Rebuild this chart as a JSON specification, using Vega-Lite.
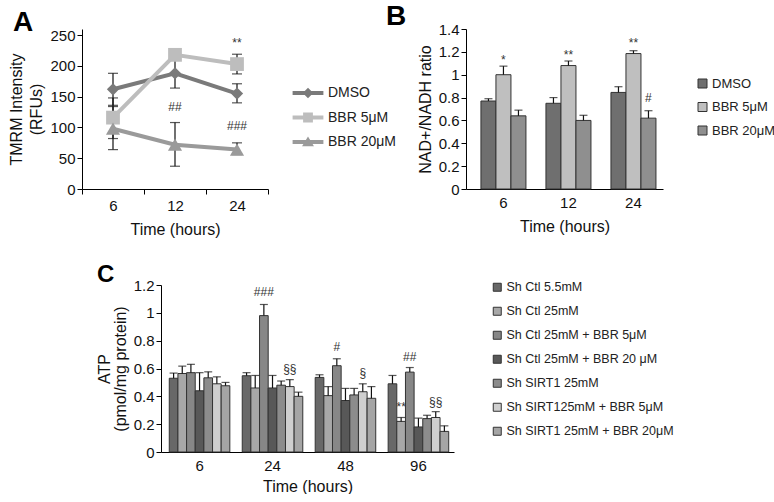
{
  "$schema": "https://vega.github.io/schema/vega-lite/v6.json",
  "padding": {"left": 8, "top": 3, "right": 0, "bottom": 0},
  "config": {
    "view": {"stroke": null},
    "font": "Liberation Sans",
    "axis": {"domainColor": "#000", "tickColor": "#000", "labelColor": "#111", "titleColor": "#111", "labelFont": "Liberation Sans", "titleFont": "Liberation Sans", "labelFontSize": 15, "titleFontSize": 16, "titleFontWeight": "normal", "grid": false, "tickSize": 5, "domainWidth": 1, "tickWidth": 1, "labelOverlap": false},
    "legend": {"labelFont": "Liberation Sans", "labelColor": "#222", "padding": 0},
    "title": {"font": "Liberation Sans", "fontWeight": "bold", "fontSize": 28, "anchor": "start", "color": "#000", "frame": "group"}
  },
  "datasets": {
    "tmrm": [
      {"series": "DMSO", "t": "6", "v": 162, "lo": 136, "hi": 188},
      {"series": "DMSO", "t": "12", "v": 188, "lo": 164, "hi": 211},
      {"series": "DMSO", "t": "24", "v": 155, "lo": 140, "hi": 171},
      {"series": "BBR 5μM", "t": "6", "v": 116, "lo": 82, "hi": 148},
      {"series": "BBR 5μM", "t": "12", "v": 218, "lo": 214, "hi": 222},
      {"series": "BBR 5μM", "t": "24", "v": 203, "lo": 187, "hi": 219},
      {"series": "BBR 20μM", "t": "6", "v": 98, "lo": 64, "hi": 134},
      {"series": "BBR 20μM", "t": "12", "v": 72, "lo": 37, "hi": 108},
      {"series": "BBR 20μM", "t": "24", "v": 64, "lo": 56, "hi": 75}
    ],
    "annA": [
      {"t": "24", "y": 238, "label": "**"},
      {"t": "12", "y": 133, "label": "##"},
      {"t": "24", "y": 103, "label": "###"}
    ],
    "nad": [
      {"series": "DMSO", "t": "6", "v": 0.77, "hi": 0.79},
      {"series": "BBR 5μM", "t": "6", "v": 1.0, "hi": 1.075},
      {"series": "BBR 20μM", "t": "6", "v": 0.64, "hi": 0.69},
      {"series": "DMSO", "t": "12", "v": 0.75, "hi": 0.8},
      {"series": "BBR 5μM", "t": "12", "v": 1.08, "hi": 1.12},
      {"series": "BBR 20μM", "t": "12", "v": 0.6, "hi": 0.645},
      {"series": "DMSO", "t": "24", "v": 0.845, "hi": 0.895},
      {"series": "BBR 5μM", "t": "24", "v": 1.185, "hi": 1.21},
      {"series": "BBR 20μM", "t": "24", "v": 0.62, "hi": 0.685}
    ],
    "annB": [
      {"t": "6", "series": "BBR 5μM", "y": 1.13, "label": "*"},
      {"t": "12", "series": "BBR 5μM", "y": 1.17, "label": "**"},
      {"t": "24", "series": "BBR 5μM", "y": 1.28, "label": "**"},
      {"t": "24", "series": "BBR 20μM", "y": 0.8, "label": "#"}
    ],
    "atp": [
      {"t": "6", "series": "Sh Ctl 5.5mM", "v": 0.53, "hi": 0.567},
      {"t": "6", "series": "Sh Ctl 25mM", "v": 0.564, "hi": 0.617},
      {"t": "6", "series": "Sh Ctl 25mM + BBR 5μM", "v": 0.57, "hi": 0.63},
      {"t": "6", "series": "Sh Ctl 25mM + BBR 20 μM", "v": 0.44, "hi": 0.57},
      {"t": "6", "series": "Sh SIRT1 25mM", "v": 0.533, "hi": 0.576},
      {"t": "6", "series": "Sh SIRT125mM + BBR 5μM", "v": 0.49, "hi": 0.54},
      {"t": "6", "series": "Sh SIRT1 25mM + BBR 20μM", "v": 0.476, "hi": 0.5},
      {"t": "24", "series": "Sh Ctl 5.5mM", "v": 0.548, "hi": 0.57},
      {"t": "24", "series": "Sh Ctl 25mM", "v": 0.46, "hi": 0.55},
      {"t": "24", "series": "Sh Ctl 25mM + BBR 5μM", "v": 0.98, "hi": 1.06},
      {"t": "24", "series": "Sh Ctl 25mM + BBR 20 μM", "v": 0.46, "hi": 0.55},
      {"t": "24", "series": "Sh SIRT1 25mM", "v": 0.48, "hi": 0.51},
      {"t": "24", "series": "Sh SIRT125mM + BBR 5μM", "v": 0.47, "hi": 0.52},
      {"t": "24", "series": "Sh SIRT1 25mM + BBR 20μM", "v": 0.4, "hi": 0.43},
      {"t": "48", "series": "Sh Ctl 5.5mM", "v": 0.536, "hi": 0.555},
      {"t": "48", "series": "Sh Ctl 25mM", "v": 0.405, "hi": 0.47},
      {"t": "48", "series": "Sh Ctl 25mM + BBR 5μM", "v": 0.62, "hi": 0.67},
      {"t": "48", "series": "Sh Ctl 25mM + BBR 20 μM", "v": 0.37, "hi": 0.457},
      {"t": "48", "series": "Sh SIRT1 25mM", "v": 0.41, "hi": 0.457},
      {"t": "48", "series": "Sh SIRT125mM + BBR 5μM", "v": 0.433, "hi": 0.49},
      {"t": "48", "series": "Sh SIRT1 25mM + BBR 20μM", "v": 0.386, "hi": 0.47},
      {"t": "96", "series": "Sh Ctl 5.5mM", "v": 0.49, "hi": 0.55},
      {"t": "96", "series": "Sh Ctl 25mM", "v": 0.22, "hi": 0.248},
      {"t": "96", "series": "Sh Ctl 25mM + BBR 5μM", "v": 0.574, "hi": 0.607},
      {"t": "96", "series": "Sh Ctl 25mM + BBR 20 μM", "v": 0.18, "hi": 0.243},
      {"t": "96", "series": "Sh SIRT1 25mM", "v": 0.24, "hi": 0.264},
      {"t": "96", "series": "Sh SIRT125mM + BBR 5μM", "v": 0.248, "hi": 0.29},
      {"t": "96", "series": "Sh SIRT1 25mM + BBR 20μM", "v": 0.148, "hi": 0.188}
    ],
    "annC": [
      {"t": "24", "series": "Sh Ctl 25mM + BBR 5μM", "y": 1.15, "label": "###"},
      {"t": "24", "series": "Sh SIRT125mM + BBR 5μM", "y": 0.6, "label": "§§"},
      {"t": "48", "series": "Sh Ctl 25mM + BBR 5μM", "y": 0.757, "label": "#"},
      {"t": "48", "series": "Sh SIRT125mM + BBR 5μM", "y": 0.57, "label": "§"},
      {"t": "96", "series": "Sh Ctl 25mM + BBR 5μM", "y": 0.68, "label": "##"},
      {"t": "96", "series": "Sh Ctl 25mM", "y": 0.32, "label": "**"},
      {"t": "96", "series": "Sh SIRT125mM + BBR 5μM", "y": 0.36, "label": "§§"}
    ]
  },
  "spacing": 26,
  "resolve": {"scale": {"color": "independent", "x": "independent", "y": "independent", "xOffset": "independent"}, "legend": {"color": "independent"}},
  "vconcat": [
    {
      "bounds": "flush",
      "spacing": 198,
      "resolve": {"scale": {"color": "independent", "x": "independent", "y": "independent", "xOffset": "independent"}, "legend": {"color": "independent"}},
      "hconcat": [
        {
          "width": 186,
          "height": 160,
          "title": {"text": "A", "dx": -69, "offset": -9},
          "layer": [
            {
              "data": {"name": "tmrm"},
              "mark": {"type": "rule", "color": "#111", "strokeWidth": 1.2},
              "encoding": {
                "x": {"field": "t", "type": "ordinal", "sort": ["6", "12", "24"], "bandPosition": 0.5,
                      "scale": {"type": "band", "paddingInner": 0, "paddingOuter": 0},
                      "axis": {"title": "Time (hours)", "labelAngle": 0, "tickBand": "extent", "labelPadding": 4, "titlePadding": 8}},
                "y": {"field": "lo", "type": "quantitative", "scale": {"domain": [0, 250]},
                      "axis": {"title": ["TMRM Intensity", "(RFUs)"], "values": [0, 50, 100, 150, 200, 250], "tickCount": 20, "labelOverlap": false, "titlePadding": 5, "titleLineHeight": 20}},
                "y2": {"field": "hi"}
              }
            },
            {
              "data": {"name": "tmrm"},
              "mark": {"type": "tick", "orient": "horizontal", "size": 10, "thickness": 1.2, "color": "#111"},
              "encoding": {
                "x": {"field": "t", "type": "ordinal", "sort": ["6", "12", "24"], "bandPosition": 0.5},
                "y": {"field": "hi", "type": "quantitative"}
              }
            },
            {
              "data": {"name": "tmrm"},
              "mark": {"type": "tick", "orient": "horizontal", "size": 10, "thickness": 1.2, "color": "#111"},
              "encoding": {
                "x": {"field": "t", "type": "ordinal", "sort": ["6", "12", "24"], "bandPosition": 0.5},
                "y": {"field": "lo", "type": "quantitative"}
              }
            },
            {
              "data": {"name": "tmrm"},
              "mark": {"type": "line", "strokeWidth": 4},
              "encoding": {
                "x": {"field": "t", "type": "ordinal", "sort": ["6", "12", "24"], "bandPosition": 0.5},
                "y": {"field": "v", "type": "quantitative"},
                "color": {"field": "series", "type": "nominal",
                  "scale": {"domain": ["DMSO", "BBR 5μM", "BBR 20μM"], "range": ["#7a7a7a", "#bdbdbd", "#9a9a9a"]},
                  "legend": {"orient": "none", "legendX": 219, "legendY": 57, "title": null, "labelFontSize": 14, "symbolSize": 196, "labelOffset": 13, "rowPadding": 10.5,
                    "encode": {"symbols": {"update": {
                      "shape": {"signal": "datum.value === 'DMSO' ? 'M-2.2,-0.28H2.2V0.28H-2.2Z M0,-0.75L0.75,0L0,0.75L-0.75,0Z' : datum.value === 'BBR 5μM' ? 'M-2.2,-0.28H2.2V0.28H-2.2Z M-0.7,-0.7H0.7V0.7H-0.7Z' : 'M-2.2,-0.28H2.2V0.28H-2.2Z M0,-0.8L0.85,0.6H-0.85Z'"},
                      "fill": {"signal": "datum.value === 'DMSO' ? '#7a7a7a' : datum.value === 'BBR 5μM' ? '#bdbdbd' : '#9a9a9a'"},
                      "stroke": {"value": "transparent"},
                      "strokeWidth": {"value": 0},
                      "opacity": {"value": 1}
                    }}}}
                }
              }
            },
            {
              "data": {"name": "tmrm"},
              "transform": [{"filter": "datum.series === 'DMSO'"}],
              "mark": {"type": "point", "filled": true, "opacity": 1, "size": 150, "shape": "diamond", "color": "#7a7a7a"},
              "encoding": {
                "x": {"field": "t", "type": "ordinal", "sort": ["6", "12", "24"], "bandPosition": 0.5},
                "y": {"field": "v", "type": "quantitative"}
              }
            },
            {
              "data": {"name": "tmrm"},
              "transform": [{"filter": "datum.series === 'BBR 5μM'"}],
              "mark": {"type": "point", "filled": true, "opacity": 1, "size": 190, "shape": "square", "color": "#bdbdbd"},
              "encoding": {
                "x": {"field": "t", "type": "ordinal", "sort": ["6", "12", "24"], "bandPosition": 0.5},
                "y": {"field": "v", "type": "quantitative"}
              }
            },
            {
              "data": {"name": "tmrm"},
              "transform": [{"filter": "datum.series === 'BBR 20μM'"}],
              "mark": {"type": "point", "filled": true, "opacity": 1, "size": 200, "shape": "triangle-up", "color": "#9a9a9a"},
              "encoding": {
                "x": {"field": "t", "type": "ordinal", "sort": ["6", "12", "24"], "bandPosition": 0.5},
                "y": {"field": "v", "type": "quantitative"}
              }
            },
            {
              "data": {"name": "annA"},
              "mark": {"type": "text", "fontSize": 12, "color": "#333"},
              "encoding": {
                "x": {"field": "t", "type": "ordinal", "sort": ["6", "12", "24"], "bandPosition": 0.5},
                "y": {"field": "y", "type": "quantitative"},
                "text": {"field": "label"}
              }
            }
          ]
        },
        {
          "width": 197,
          "height": 160,
          "title": {"text": "B", "dx": -80, "offset": -9},
          "layer": [
            {
              "data": {"name": "nad"},
              "mark": {"type": "bar", "stroke": "#333", "strokeWidth": 1},
              "encoding": {
                "x": {"field": "t", "type": "ordinal", "sort": ["6", "12", "24"],
                      "scale": {"type": "band", "paddingInner": 0.3077, "paddingOuter": 0.169, "align": 0.68},
                      "axis": {"title": "Time (hours)", "labelAngle": 0, "ticks": false, "labelPadding": 6, "titlePadding": 8}},
                "xOffset": {"field": "series", "type": "nominal", "scale": {"domain": ["DMSO", "BBR 5μM", "BBR 20μM"], "paddingInner": 0, "paddingOuter": 0}},
                "y": {"field": "v", "type": "quantitative", "scale": {"domain": [0, 1.4]},
                      "axis": {"title": "NAD+/NADH ratio", "values": [0, 0.2, 0.4, 0.6, 0.8, 1, 1.2, 1.4], "tickCount": 20, "format": "~g", "labelOverlap": false, "titlePadding": 5}},
                "color": {"field": "series", "type": "nominal",
                  "scale": {"domain": ["DMSO", "BBR 5μM", "BBR 20μM"], "range": ["#6f6f6f", "#bfbfbf", "#8f8f8f"]},
                  "legend": {"orient": "none", "legendX": 230, "legendY": 48, "title": null, "labelFontSize": 13, "symbolType": "square", "symbolSize": 81, "symbolStrokeColor": "#333", "symbolStrokeWidth": 1, "labelOffset": 3, "rowPadding": 9.5}}
              }
            },
            {
              "data": {"name": "nad"},
              "mark": {"type": "rule", "color": "#111", "strokeWidth": 1.2},
              "encoding": {
                "x": {"field": "t", "type": "ordinal", "sort": ["6", "12", "24"], "bandPosition": 0.5},
                "xOffset": {"field": "series", "type": "nominal"},
                "y": {"field": "v", "type": "quantitative"},
                "y2": {"field": "hi"}
              }
            },
            {
              "data": {"name": "nad"},
              "mark": {"type": "tick", "orient": "horizontal", "size": 8, "thickness": 1.2, "color": "#111"},
              "encoding": {
                "x": {"field": "t", "type": "ordinal", "sort": ["6", "12", "24"], "bandPosition": 0.5},
                "xOffset": {"field": "series", "type": "nominal"},
                "y": {"field": "hi", "type": "quantitative"}
              }
            },
            {
              "data": {"name": "annB"},
              "mark": {"type": "text", "fontSize": 12, "color": "#333"},
              "encoding": {
                "x": {"field": "t", "type": "ordinal", "sort": ["6", "12", "24"], "bandPosition": 0.5},
                "xOffset": {"field": "series", "type": "nominal"},
                "y": {"field": "y", "type": "quantitative"},
                "text": {"field": "label"}
              }
            }
          ]
        }
      ]
    },
    {
      "bounds": "flush",
      "spacing": 0,
      "resolve": {"scale": {"color": "independent", "x": "independent", "y": "independent", "xOffset": "independent"}, "legend": {"color": "independent"}},
      "hconcat": [
        {
          "width": 79,
          "height": 1,
          "data": {"values": [{"a": 1}]},
          "mark": {"type": "point", "opacity": 0},
          "encoding": {}
        },
        {
          "width": 293,
          "height": 167,
          "title": {"text": "C", "dx": -64, "offset": -9, "fontSize": 24},
          "layer": [
            {
              "data": {"name": "atp"},
              "mark": {"type": "bar", "stroke": "#333", "strokeWidth": 1},
              "encoding": {
                "x": {"field": "t", "type": "ordinal", "sort": ["6", "24", "48", "96"],
                      "scale": {"type": "band", "paddingInner": 0.17, "paddingOuter": 0.093, "align": 0.61},
                      "axis": {"title": "Time (hours)", "labelAngle": 0, "ticks": false, "labelPadding": 6, "titlePadding": 5}},
                "xOffset": {"field": "series", "type": "nominal", "scale": {"domain": ["Sh Ctl 5.5mM", "Sh Ctl 25mM", "Sh Ctl 25mM + BBR 5μM", "Sh Ctl 25mM + BBR 20 μM", "Sh SIRT1 25mM", "Sh SIRT125mM + BBR 5μM", "Sh SIRT1 25mM + BBR 20μM"], "paddingInner": 0, "paddingOuter": 0}},
                "y": {"field": "v", "type": "quantitative", "scale": {"domain": [0, 1.2]},
                      "axis": {"title": ["ATP", "(pmol/mg protein)"], "values": [0, 0.2, 0.4, 0.6, 0.8, 1, 1.2], "tickCount": 20, "format": "~g", "labelOverlap": false, "titlePadding": 5, "titleLineHeight": 16}},
                "color": {"field": "series", "type": "nominal",
                  "scale": {"domain": ["Sh Ctl 5.5mM", "Sh Ctl 25mM", "Sh Ctl 25mM + BBR 5μM", "Sh Ctl 25mM + BBR 20 μM", "Sh SIRT1 25mM", "Sh SIRT125mM + BBR 5μM", "Sh SIRT1 25mM + BBR 20μM"],
                            "range": ["#686868", "#a8a8a8", "#878787", "#585858", "#8c8c8c", "#cfcfcf", "#a5a5a5"]},
                  "legend": {"orient": "none", "legendX": 330, "legendY": -4, "title": null, "labelFontSize": 12.5, "symbolType": "square", "symbolSize": 64, "symbolStrokeColor": "#333", "symbolStrokeWidth": 1, "labelOffset": 3, "rowPadding": 11, "labelLimit": 300}}
              }
            },
            {
              "data": {"name": "atp"},
              "mark": {"type": "rule", "color": "#111", "strokeWidth": 1.2},
              "encoding": {
                "x": {"field": "t", "type": "ordinal", "sort": ["6", "24", "48", "96"], "bandPosition": 0.5},
                "xOffset": {"field": "series", "type": "nominal"},
                "y": {"field": "v", "type": "quantitative"},
                "y2": {"field": "hi"}
              }
            },
            {
              "data": {"name": "atp"},
              "mark": {"type": "tick", "orient": "horizontal", "size": 8, "thickness": 1.2, "color": "#111"},
              "encoding": {
                "x": {"field": "t", "type": "ordinal", "sort": ["6", "24", "48", "96"], "bandPosition": 0.5},
                "xOffset": {"field": "series", "type": "nominal"},
                "y": {"field": "hi", "type": "quantitative"}
              }
            },
            {
              "data": {"name": "annC"},
              "mark": {"type": "text", "fontSize": 12, "color": "#333"},
              "encoding": {
                "x": {"field": "t", "type": "ordinal", "sort": ["6", "24", "48", "96"], "bandPosition": 0.5},
                "xOffset": {"field": "series", "type": "nominal"},
                "y": {"field": "y", "type": "quantitative"},
                "text": {"field": "label"}
              }
            }
          ]
        }
      ]
    }
  ]
}
